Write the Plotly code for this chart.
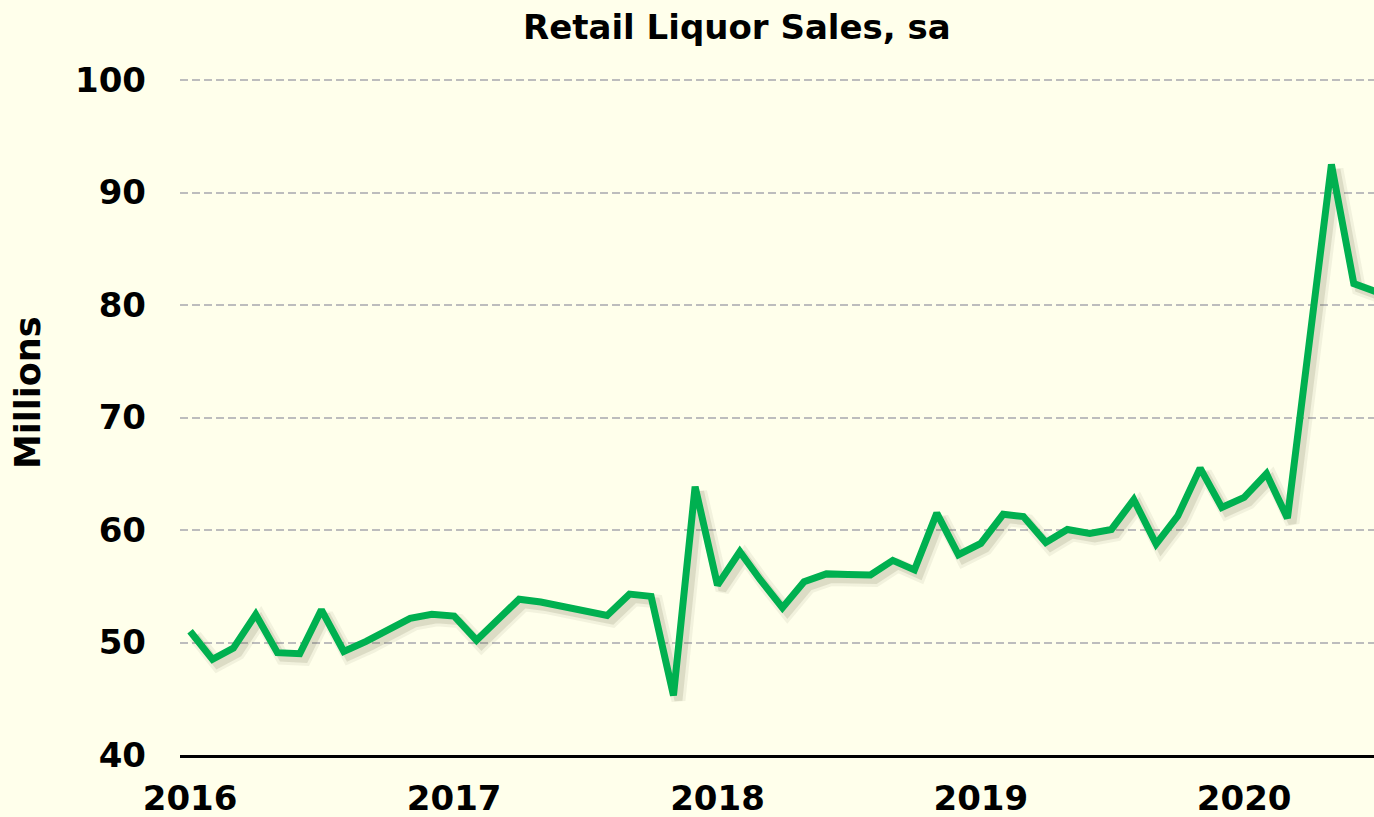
import pandas as pd
import plotly.graph_objects as go

# ---- data ----
months = pd.date_range("2016-01-01", periods=55, freq="MS").strftime("%Y-%m-%d").tolist()
sales = [51.0, 48.5, 49.5, 52.5, 49.1, 49.0, 52.9, 49.2, 50.1, 51.1, 52.15, 52.5,
         52.35, 50.2, 51.85, 53.85, 53.6, 53.2, 52.8, 52.4, 54.3, 54.1, 45.3, 63.85,
         55.1, 58.07, 55.6, 53.1, 55.4, 56.1, 56.05, 56.0, 57.3, 56.45, 61.5, 57.8,
         58.8, 61.4, 61.2, 58.9, 60.05, 59.7, 60.05, 62.7, 58.75, 61.25, 65.5, 62.0,
         62.9, 65.0, 61.05, 76.8, 92.5, 81.9, 81.2]
year_ticks = ["2016-01-01", "2017-01-01", "2018-01-01", "2019-01-01", "2020-01-01"]
year_labels = ["2016", "2017", "2018", "2019", "2020"]
y_ticks = [40, 50, 60, 70, 80, 90, 100]

# ---- layout constants ----
W, H = 1374, 817
ML, MR, MT, MB = 180, 0, 70, 62
x0 = pd.Timestamp("2015-12-18")
x1 = pd.Timestamp("2020-06-29")
px_per_unit = 675 / 60.0              # 100 at y=80, 40 at y=755
y0 = 40
y1 = 100 + (80 - MT) / px_per_unit    # a little headroom so the 100 gridline shows
plot_w = W - ML - MR
plot_h = H - MT - MB
days_per_px = (x1 - x0) / plot_w
units_per_px = (y1 - y0) / plot_h

def ds(t):
    return t.strftime("%Y-%m-%d %H:%M:%S")

def py(ypix):
    return (H - MB - ypix) / plot_h

def px(xpix):
    return (xpix - ML) / plot_w

# shadow offset (pixels)
sx, sy = 5, 5
x_main = [ds(x0), ds(x1)]
x_sh = [ds(x0 - days_per_px * sx), ds(x1 - days_per_px * sx)]
y_sh = [y0 + units_per_px * sy, y1 + units_per_px * sy]

BG = "#FFFFEB"
GREEN = "#00B050"
FONT = dict(family="DejaVu Sans", size=34, color="black", weight="bold")

fig = go.Figure()
fig.add_trace(go.Scatter(x=[months[0]], y=[None], mode="lines", xaxis="x", yaxis="y",
                         hoverinfo="skip", showlegend=False))
# shadow (blur approximation)
fig.add_trace(go.Scatter(x=months, y=sales, mode="lines", xaxis="x2", yaxis="y2",
                         line=dict(color="rgba(90,90,60,0.08)", width=14),
                         hoverinfo="skip", showlegend=False))
fig.add_trace(go.Scatter(x=months, y=sales, mode="lines", xaxis="x2", yaxis="y2",
                         line=dict(color="rgba(90,90,60,0.14)", width=8),
                         hoverinfo="skip", showlegend=False))
# main line
fig.add_trace(go.Scatter(x=months, y=sales, mode="lines", xaxis="x3", yaxis="y3",
                         line=dict(color=GREEN, width=7), showlegend=False,
                         name="Retail Liquor Sales"))

hidden = dict(showticklabels=False, ticks="", showgrid=False, zeroline=False,
              showline=False, automargin=False)
fig.update_layout(
    width=W, height=H,
    margin=dict(l=ML, r=MR, t=MT, b=MB, autoexpand=False),
    paper_bgcolor=BG, plot_bgcolor=BG,
    showlegend=False,
    xaxis=dict(type="date", range=x_main, tickvals=year_ticks, ticktext=year_labels,
               showgrid=False, zeroline=False, showline=True, linecolor="black",
               linewidth=3, ticks="", tickfont=FONT, ticklabelstandoff=11,
               automargin=False),
    yaxis=dict(range=[y0, y1], tickvals=y_ticks, showgrid=True, gridcolor="#BDBDBD",
               gridwidth=2, griddash="8px,4px", zeroline=False, showline=False,
               ticks="", tickfont=FONT, ticklabelstandoff=33, automargin=False),
    xaxis2=dict(type="date", range=x_sh, overlaying="x", anchor="y2", **hidden),
    yaxis2=dict(range=y_sh, overlaying="y", anchor="x2", **hidden),
    xaxis3=dict(type="date", range=x_main, overlaying="x", anchor="y3", **hidden),
    yaxis3=dict(range=[y0, y1], overlaying="y", anchor="x3", **hidden),
    annotations=[
        dict(text="Retail Liquor Sales, sa", xref="paper", yref="paper",
             x=px(737), y=py(27), xanchor="center", yanchor="middle", showarrow=False,
             font=dict(family="DejaVu Sans", size=34, color="black", weight="bold")),
        dict(text="Millions", xref="paper", yref="paper",
             x=px(28), y=py(393), textangle=-90,
             xanchor="center", yanchor="middle", showarrow=False,
             font=dict(family="DejaVu Sans", size=35, color="black", weight="bold")),
    ],
)

fig.write_html("out.html", config={"displayModeBar": False},
               post_script="document.body.style.margin='0';")
